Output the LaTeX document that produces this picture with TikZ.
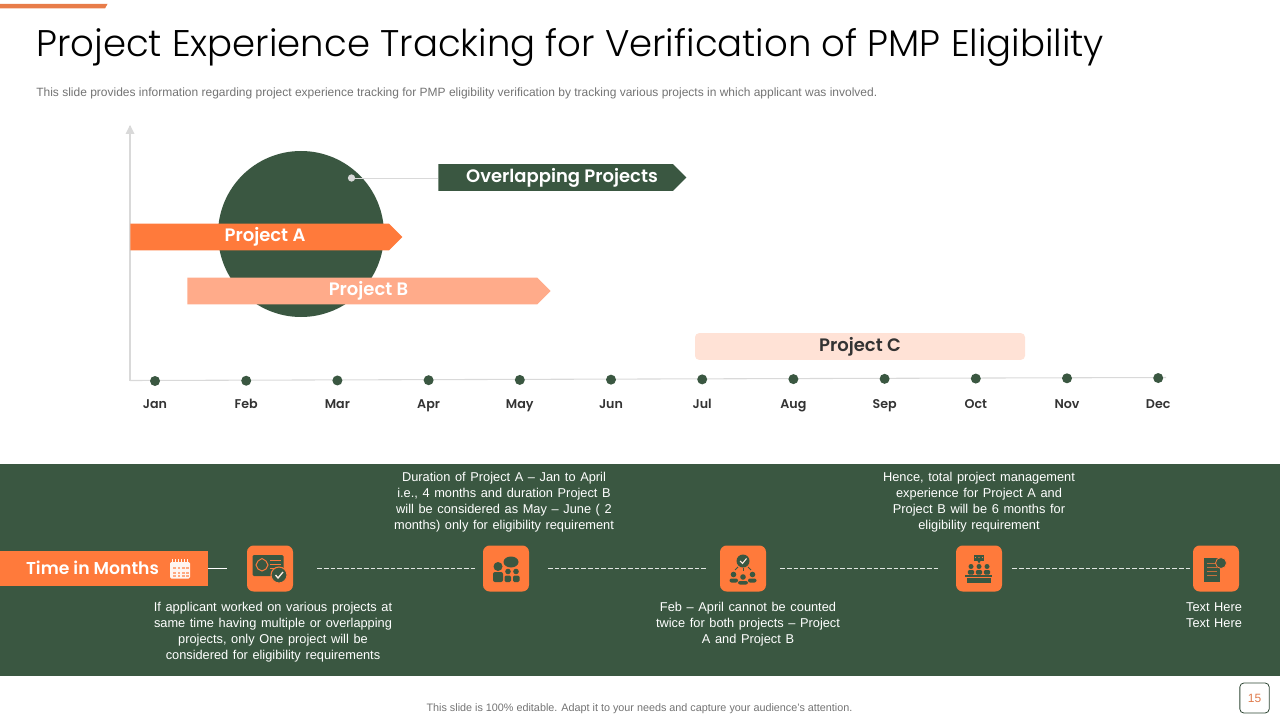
\documentclass[tikz,border=0pt]{standalone}
\usepackage{fontspec}
\setmainfont{Liberation Sans}
\newfontfamily\headfont{Poppins Light}
\newfontfamily\labelfont{Poppins SemiBold}
\newfontfamily\notefont{Liberation Sans}[WordSpace=1.3]
\usetikzlibrary{shapes.symbols}
\definecolor{leaf}{HTML}{3A5741}
\definecolor{tang}{HTML}{FF7A3B}
\definecolor{peach}{HTML}{FFAB8A}
\definecolor{blush}{HTML}{FFE2D6}
\definecolor{ash}{HTML}{D9D9D9}
\tikzset{
  band arrow/.style={signal, signal to=east, signal pointer angle=90, inner sep=0pt, minimum height=20pt, anchor=west},
  band text/.style={anchor=base, inner sep=0pt, text=white, font=\labelfont\fontsize{13.5}{16}\selectfont},
  icon box/.style={fill=tang, rounded corners=5pt, minimum width=34.5pt, minimum height=34.5pt, inner sep=0pt},
  note/.style={text=white, align=center, font=\notefont\fontsize{9.6}{12}\selectfont, inner sep=0pt},
  month/.style={anchor=base, inner sep=0pt, font=\labelfont\fontsize{9.5}{12}\selectfont, text=black!80},
  link/.style={white!85!leaf, line width=0.7pt, dash pattern=on 3.5pt off 1.5pt},
  ink/.style={fill=leaf, draw=none},
  cut/.style={draw=tang, line width=0.5pt},
}
\begin{document}
\begin{tikzpicture}[x=0.75pt, y=-0.75pt]
\useasboundingbox (0,0) rectangle (1280,720);

% header
\fill [tang!90!black!90!white] (0,4) -- (107.5,4) -- (105,8.5) -- (0,8.5) -- cycle;
\node (title) [anchor=base west, inner sep=0pt, text=black, font=\headfont\fontsize{27.8}{34}\selectfont] at (36,57)
  {Project Experience Tracking for Verification of PMP Eligibility};
\node (subtitle) [anchor=base west, inner sep=0pt, text=black!55, font=\fontsize{9}{11}\selectfont] at (36,97)
  {This slide provides information regarding project experience tracking for PMP  eligibility verification by tracking various projects in which applicant was involved.};

% chart
\coordinate (origin) at (130,380.5);
\coordinate (top) at (130,126);
\coordinate (right) at (1166,377.5);
\draw [ash, line width=0.8pt] (origin) -- (right);
\draw [ash, line width=0.8pt] (origin) -- (top);
\fill [ash] (130,125) -- (134.5,134) -- (125.5,134) -- cycle;

\foreach \m [count=\i from 0] in {Jan,Feb,Mar,Apr,May,Jun,Jul,Aug,Sep,Oct,Nov,Dec} {
  \node (dot\i) [circle, fill=leaf, minimum size=7.5pt, inner sep=0pt] at (155+91.2*\i, 381-0.27*\i) {};
  \node (lab\i) [month] at (155+91.2*\i, 408) {\m};
}

\node (overlap) [circle, fill=leaf, minimum size=124.5pt, inner sep=0pt] at (301,234) {};
\node (pin) [circle, fill=ash, minimum size=5.5pt, inner sep=0pt] at (351.5,178) {};
\node (proja) [band arrow, fill=tang, minimum width=204pt] at (130,237) {};
\node (projb) [band arrow, fill=peach, minimum width=272.5pt] at (187,291) {};
\node (over) [band arrow, fill=leaf, minimum width=186pt] at (438,177.5) {};
\node (texta) [band text] at (265,241.5) {Project A};
\node (textb) [band text] at (368.5,295.5) {Project B};
\node (textover) [band text] at (562,182.5) {Overlapping Projects};
\node (projc) [fill=blush, rounded corners=3pt, minimum width=247.5pt, minimum height=20pt, inner sep=0pt] at (860,346.5) {};
\node (textc) [band text, text=black!80] at (860,351.5) {Project C};
\draw [ash, line width=0.7pt] (pin) -- (pin -| over.west);

% lower band
\fill [leaf] (0,464) rectangle (1280,676);
\node (months) [fill=tang, minimum width=156pt, minimum height=26pt, inner sep=0pt] at (104,568.5) {};
\node (mtext) [band text, font=\labelfont\fontsize{12.9}{16}\selectfont] at (92.5,574.5) {Time in Months};

% calendar icon
\fill [white!92!tang, rounded corners=1pt] (170,562) rectangle (190,578.5);
\foreach \x in {171.5,174.5,177.5,180.5,183.5,186.5}
  \fill [white!92!tang] (\x,558.5) rectangle (\x+1.2,563);
\foreach \x in {173,177.5,182,186}
  \foreach \y in {567,571.5,575}
    \fill [tang!65!white] (\x,\y) rectangle (\x+2.6,\y+2.4);

\node (step1) [icon box] at (270,568.5) {};
\node (step2) [icon box] at (506,568.5) {};
\node (step3) [icon box] at (743,568.5) {};
\node (step4) [icon box] at (979,568.5) {};
\node (step5) [icon box] at (1216,568.5) {};

\coordinate (tail) at (227,568);
\draw [white, line width=0.7pt] (months.east |- tail) -- (tail);
\draw [link, shorten <=18pt, shorten >=5pt] (step1) -- (step2);
\draw [link, shorten <=14pt, shorten >=10pt] (step2) -- (step3);
\draw [link, shorten <=10.5pt, shorten >=13pt] (step3) -- (step4);
\draw [link, shorten <=7.5pt, shorten >=2pt] (step4) -- (step5);

% step 1 icon
\fill [ink, rounded corners=1pt] (252.5,555) rectangle (283.5,576);
\draw [tang, line width=0.7pt] (258,561) -- (262,558.5) -- (266,561) -- (268,565) -- (266,569) -- (262,571) -- (258,569) -- (256,565) -- cycle;
\foreach \y in {560,564,568}
  \draw [cut] (270,\y) -- (281,\y);
\draw [ink, draw=tang, line width=0.8pt] (279,575) circle [radius=8];
\draw [white!85!tang, line width=1pt] (275.5,575) -- (278,578) -- (283,572);

% step 2 icon
\fill [ink] (511,562) ellipse [x radius=7.5, y radius=5.5];
\fill [ink] (498,566.5) circle [radius=4.5];
\fill [ink, rounded corners=1.5pt] (493,572) rectangle (503,582);
\fill [ink] (508,571.5) circle [radius=2.8];
\fill [ink] (516,571.5) circle [radius=2.8];
\fill [ink, rounded corners=1pt] (504.5,575.5) rectangle (511,582);
\fill [ink, rounded corners=1pt] (513,575.5) rectangle (519.5,582);

% step 3 icon
\fill [ink] (743,561) circle [radius=6.5];
\draw [white!85!tang, line width=0.8pt] (740,561) -- (742.5,563.5) -- (746.5,558.5);
\draw [leaf, line width=0.6pt] (743,568) -- (743,571);
\draw [leaf, line width=0.6pt] (738,567) -- (735,570);
\draw [leaf, line width=0.6pt] (748,567) -- (751,570);
\fill [ink] (733.5,574.5) circle [radius=2.8];
\fill [ink] (752.5,574.5) circle [radius=2.8];
\fill [ink] (743,577) circle [radius=2.8];
\fill [ink, rounded corners=1.5pt] (729.5,578.5) rectangle (738,582.5);
\fill [ink, rounded corners=1.5pt] (748,578.5) rectangle (756.5,582.5);
\fill [ink, rounded corners=1.5pt] (738,581) rectangle (748,584.5);

% step 4 icon
\fill [ink] (974,555) rectangle (984,561);
\fill [ink] (977.5,561) -- (980.5,561) -- (979,563.5) -- cycle;
\foreach \x in {975.5,979,982.5}
  \fill [tang] (\x,557.5) circle [radius=0.6];
\foreach \x in {971,979,987} {
  \fill [ink] (\x,566.5) circle [radius=2.5];
  \fill [ink, rounded corners=1pt] (\x-3.2,570) rectangle (\x+3.2,574.5);
}
\fill [ink] (965,575) rectangle (992,577);
\fill [ink] (967,578) rectangle (990.5,583);

% step 5 icon
\fill [ink] (1204,558) rectangle (1220,581.5);
\foreach \y in {563,567,571,575}
  \draw [cut, draw=tang!70!leaf] (1207,\y) -- (1217,\y);
\draw [ink, draw=tang, line width=0.6pt] (1221,563) circle [radius=5.5];

% step texts
\node (note1) [note] at (273,632) {If applicant worked on various projects at\\same time having multiple or overlapping\\projects, only One project will be\\considered for eligibility requirements};
\node (note2) [note] at (504,502) {Duration of Project A – Jan  to April\\i.e., 4 months and duration Project B\\will be considered as May – June ( 2\\months) only for eligibility requirement};
\node (note3) [note] at (748,624) {Feb – April cannot be counted\\twice for both projects – Project\\A and Project B};
\node (note4) [note] at (979,502) {Hence, total project management\\experience for Project A and\\Project B will be 6 months for\\eligibility requirement};
\node (note5) [note] at (1214,615) {Text Here\\Text Here};

% footer
\node (foot) [anchor=base, inner sep=0pt, text=black!55, font=\fontsize{8.1}{10}\selectfont] at (639.5,711) {This slide is 100\% editable. Adapt it to your needs and capture your audience's attention.};
\node (page) [draw=leaf!80!black, line width=0.6pt, rounded corners=3pt, minimum width=22pt, minimum height=22.5pt, inner sep=0pt,
  text=tang!75!gray, font=\fontsize{9}{11}\selectfont] at (1254.5,698) {15};
\end{tikzpicture}
\end{document}
